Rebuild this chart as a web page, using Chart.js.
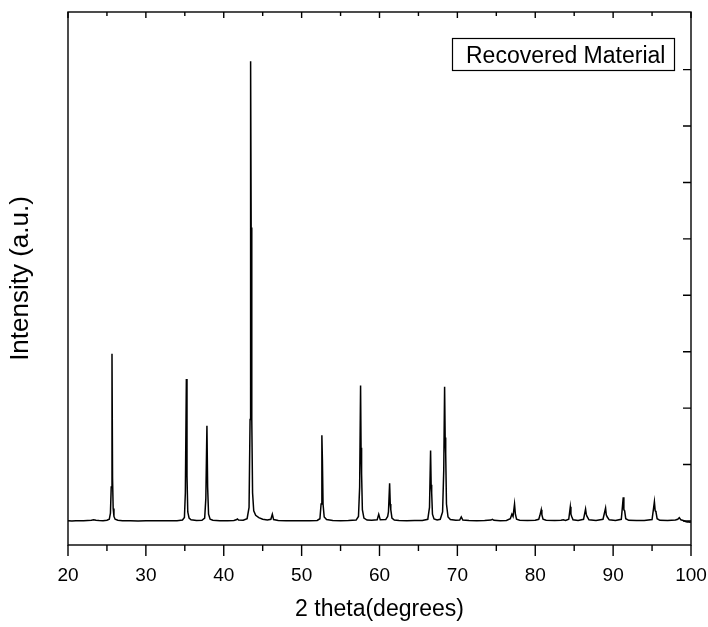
<!DOCTYPE html>
<html>
<head>
<meta charset="utf-8">
<script src="https://cdn.jsdelivr.net/npm/chart.js@4/dist/chart.umd.min.js"></script>
<style>
  html, body { margin: 0; padding: 0; background: #fff; }
  #wrap { width: 708px; height: 627px; }
</style>
</head>
<body>
<div id="wrap"><canvas id="xrd" width="708" height="627"></canvas></div>
<script>
// XRD pattern (2 theta in degrees, intensity in arbitrary units)
const twoTheta = [
    20.0, 20.5, 21.0, 21.5, 22.0, 22.5, 23.0, 23.3, 23.6, 24.0, 24.5, 25.0,
    25.3, 25.45, 25.55, 25.65, 25.72, 25.8, 25.9, 26.05, 26.4, 27.0, 28.0, 29.0,
    30.0, 31.0, 32.0, 33.0, 34.0, 34.7, 34.95, 35.07, 35.2, 35.28, 35.38, 35.55,
    35.8, 36.5, 37.2, 37.55, 37.7, 37.84, 37.93, 38.05, 38.25, 38.6, 39.5, 40.5,
    41.3, 41.6, 41.75, 41.9, 42.5, 43.0, 43.25, 43.38, 43.45, 43.52, 43.6, 43.7,
    43.85, 44.1, 44.5, 45.0, 45.6, 46.05, 46.24, 46.4, 47.0, 48.0, 49.0, 50.0,
    51.0, 52.0, 52.35, 52.5, 52.6, 52.67, 52.75, 52.9, 53.2, 54.0, 55.0, 56.0,
    57.0, 57.3, 57.45, 57.57, 57.63, 57.7, 57.8, 58.0, 58.4, 59.0, 59.7, 59.9,
    60.1, 60.8, 61.05, 61.15, 61.3, 61.38, 61.45, 61.6, 61.9, 62.5, 63.5, 64.5,
    65.5, 66.2, 66.42, 66.56, 66.63, 66.7, 66.8, 67.0, 67.4, 67.8, 68.1, 68.25,
    68.36, 68.43, 68.5, 68.6, 68.8, 69.1, 69.8, 70.3, 70.5, 70.7, 71.5, 72.5,
    73.5, 74.3, 74.5, 74.7, 75.5, 76.3, 76.8, 77.0, 77.15, 77.34, 77.45, 77.6,
    78.0, 79.0, 80.0, 80.45, 80.6, 80.77, 80.85, 81.0, 81.4, 82.5, 83.3, 83.6,
    83.9, 84.3, 84.5, 84.58, 84.68, 84.85, 85.5, 86.2, 86.46, 86.55, 86.65, 86.9,
    87.8, 88.7, 89.03, 89.12, 89.25, 89.5, 90.3, 91.05, 91.3, 91.38, 91.48, 91.62,
    92.0, 93.0, 94.0, 95.0, 95.3, 95.4, 95.5, 95.65, 96.0, 97.0, 98.0, 98.3,
    98.5, 98.7, 99.0, 99.3, 99.5, 99.7, 99.85, 100.0
];
const intensity = [
    2, 0, 3, 1, 2, 4, 6, 10, 7, 4, 3, 6,
    15, 70, 300, 1482, 380, 110, 40, 15, 6, 3, 2, 0,
    2, 1, 3, 2, 3, 8, 30, 250, 1258, 400, 80, 25,
    10, 4, 6, 25, 200, 843, 300, 60, 15, 6, 3, 2,
    4, 10, 18, 8, 6, 20, 120, 900, 4074, 2600, 900, 250,
    90, 50, 30, 15, 8, 15, 60, 12, 5, 3, 2, 3,
    2, 5, 20, 150, 760, 540, 150, 35, 12, 5, 3, 4,
    8, 40, 300, 1201, 650, 420, 100, 25, 8, 6, 10, 60,
    10, 12, 40, 80, 335, 150, 100, 25, 8, 5, 3, 4,
    5, 15, 120, 624, 320, 250, 60, 18, 8, 15, 80, 450,
    1190, 740, 600, 150, 35, 12, 6, 8, 35, 8, 4, 3,
    5, 8, 15, 6, 3, 5, 20, 60, 40, 150, 60, 15,
    6, 4, 6, 15, 50, 100, 55, 15, 6, 4, 6, 10,
    5, 15, 125, 60, 40, 10, 5, 15, 105, 60, 40, 10,
    5, 15, 115, 55, 35, 10, 5, 15, 210, 100, 90, 20,
    6, 4, 5, 12, 170, 90, 80, 20, 6, 4, 8, 15,
    30, 10, 5, -5, -10, -8, -12, -10
];

const xLabelTicks = [20, 30, 40, 50, 60, 70, 80, 90, 100];
const xMarkTicks = [20, 25, 30, 35, 40, 45, 50, 55, 60, 65, 70, 75, 80, 85, 90, 95, 100];
const yMarkTicks = [0, 500, 1000, 1500, 2000, 2500, 3000, 3500, 4000];
const seriesLabel = 'Recovered Material';

const fontFamily = "'Liberation Sans', Arial, sans-serif";

// frame, inward/outward tick marks and the boxed label
const frameAndLegend = {
    id: 'frameAndLegend',
    afterDraw(chart) {
        let ctx = chart.ctx;
        let a = chart.chartArea;
        let x = chart.scales.x;
        let y = chart.scales.y;
        ctx.save();
        ctx.strokeStyle = '#000';
        ctx.lineWidth = 1.4;
        ctx.strokeRect(a.left, a.top, a.right - a.left, a.bottom - a.top);

        ctx.beginPath();
        for (let v of xMarkTicks) {
            let px = x.getPixelForValue(v);
            let major = xLabelTicks.includes(v);
            ctx.moveTo(px, a.bottom);
            ctx.lineTo(px, a.bottom + (major ? 11 : 6));
            ctx.moveTo(px, a.top);
            ctx.lineTo(px, a.top + (major ? 6 : 4));
        }
        for (let v of yMarkTicks) {
            let py = y.getPixelForValue(v);
            ctx.moveTo(a.right, py);
            ctx.lineTo(a.right - 8, py);
        }
        ctx.stroke();

        // label box in the top right corner
        ctx.lineWidth = 1.2;
        ctx.strokeRect(452.5, 38.5, 222, 32);
        ctx.fillStyle = '#000';
        ctx.font = '23px ' + fontFamily;
        ctx.textBaseline = 'alphabetic';
        ctx.textAlign = 'left';
        ctx.fillText(seriesLabel, 466, 63);
        ctx.restore();
    }
};

const points = twoTheta.map((t, i) => ({ x: t, y: intensity[i] }));

new Chart(document.getElementById('xrd'), {
    type: 'line',
    data: {
        datasets: [{
            label: seriesLabel,
            data: points,
            borderColor: '#000',
            borderWidth: 1.5,
            pointRadius: 0,
            tension: 0,
            fill: false
        }]
    },
    options: {
        responsive: false,
        animation: false,
        events: [],
        layout: { padding: { top: 12, right: 17, left: 0, bottom: 0 } },
        plugins: {
            legend: { display: false },
            tooltip: { enabled: false }
        },
        scales: {
            x: {
                type: 'linear',
                position: 'bottom',
                min: 20,
                max: 100,
                afterBuildTicks: s => { s.ticks = xLabelTicks.map(v => ({ value: v })); },
                ticks: {
                    color: '#000',
                    font: { family: fontFamily, size: 19 },
                    padding: 19,
                    maxRotation: 0
                },
                grid: { display: false, drawTicks: false },
                border: { display: false },
                title: {
                    display: true,
                    text: '2 theta(degrees)',
                    color: '#000',
                    font: { family: fontFamily, size: 23 },
                    padding: { top: 0, bottom: 4 }
                },
                afterFit: s => {
                    s.height = 82;
                    s.paddingLeft = 0;
                    s.paddingRight = 0;
                }
            },
            y: {
                type: 'linear',
                min: -213,
                max: 4511,
                ticks: { display: false },
                grid: { display: false, drawTicks: false },
                border: { display: false },
                title: {
                    display: true,
                    text: 'Intensity (a.u.)',
                    color: '#000',
                    font: { family: fontFamily, size: 26 },
                    padding: { top: 5, bottom: 0 }
                },
                afterFit: s => { s.width = 68; }
            }
        }
    },
    plugins: [frameAndLegend]
});
</script>
</body>
</html>
